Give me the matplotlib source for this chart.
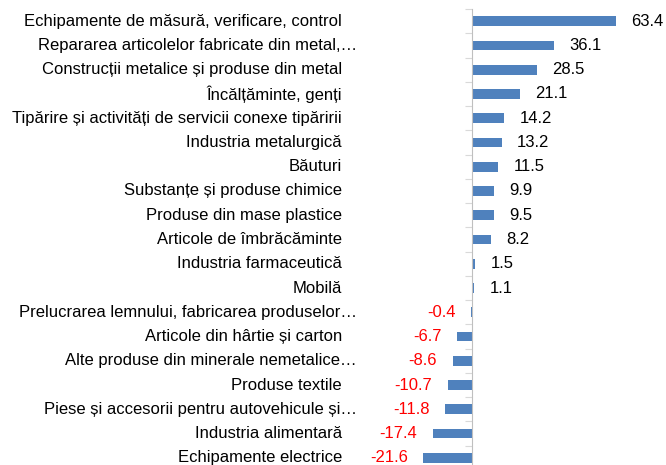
import matplotlib
matplotlib.use('Agg')
import matplotlib.pyplot as plt
from matplotlib.transforms import blended_transform_factory

plt.rcParams['font.family'] = ['Liberation Sans', 'DejaVu Sans']

categories = [
    'Echipamente de măsură, verificare, control',
    'Repararea articolelor fabricate din metal,…',
    'Construcții metalice și produse din metal',
    'Încălțăminte, genți',
    'Tipărire și activități de servicii conexe tipăririi',
    'Industria metalurgică',
    'Băuturi',
    'Substanțe și produse chimice',
    'Produse din mase plastice',
    'Articole de îmbrăcăminte',
    'Industria farmaceutică',
    'Mobilă',
    'Prelucrarea lemnului, fabricarea produselor…',
    'Articole din hârtie și carton',
    'Alte produse din minerale nemetalice…',
    'Produse textile',
    'Piese și accesorii pentru autovehicule și…',
    'Industria alimentară',
    'Echipamente electrice',
]
values = [63.4, 36.1, 28.5, 21.1, 14.2, 13.2, 11.5, 9.9, 9.5, 8.2, 1.5, 1.1,
          -0.4, -6.7, -8.6, -10.7, -11.8, -17.4, -21.6]

W, H = 666, 465
fig = plt.figure(figsize=(W / 100, H / 100), dpi=100)
ax = fig.add_axes([400 / W, (H - 470) / H, 266 / W, 461 / H])

pos = list(range(len(categories)))
ax.barh(pos, values, height=0.4, color='#4f81bd')
ax.set_xlim((400 - 472) / 2.267, (666 - 472) / 2.267)
ax.set_ylim(len(categories) - 0.5, -0.5)

for s in ['top', 'right', 'bottom']:
    ax.spines[s].set_visible(False)
ax.spines['left'].set_position(('data', 0))
ax.spines['left'].set_color('#bfbfbf')
ax.set_xticks([])
ax.set_yticks([p - 0.5 for p in pos] + [len(categories) - 0.5])
ax.set_yticklabels([])
ax.tick_params(axis='y', direction='out', length=5, color='#d9d9d9')

# truncated labels (ending with …) overhang the label column a bit, like Excel
trans = blended_transform_factory(fig.transFigure, ax.transData)
for p, name in zip(pos, categories):
    xr = 357 if name.endswith('…') else 342
    ax.text(xr / W, p, name, transform=trans, ha='right', va='center',
            fontsize=12, color='black')

for p, v in zip(pos, values):
    if v >= 0:
        ax.annotate(f'{v:.1f}', (v, p), xytext=(11, 0), textcoords='offset points',
                    ha='left', va='center', fontsize=12, color='black')
    else:
        ax.annotate(f'{v:.1f}', (v, p), xytext=(-11, 0), textcoords='offset points',
                    ha='right', va='center', fontsize=12, color='#ff0000')

fig.savefig('out.png', dpi=100)
